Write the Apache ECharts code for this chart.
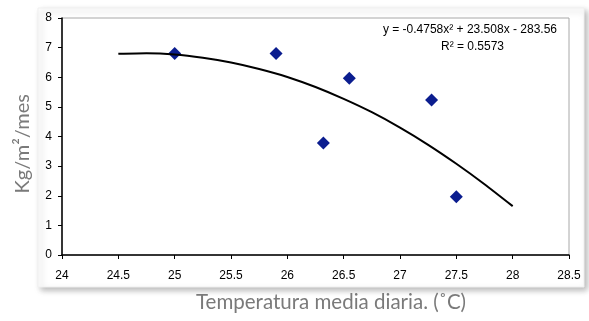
<!DOCTYPE html>
<html>
<head>
<meta charset="utf-8">
<script src="https://cdn.jsdelivr.net/npm/echarts@6/dist/echarts.min.js"></script>
<style>
  html, body { margin: 0; padding: 0; background: #fff; }
  #chart { width: 589px; height: 321px; }
</style>
</head>
<body>
<div id="chart"></div>
<script>
// observed points (temperature, kg/m2/mes)
const tempX = [25.0, 25.9, 26.32, 26.55, 27.28, 27.5];
const yieldY = [6.8, 6.8, 3.78, 5.97, 5.23, 1.97];

// trend curve
const trendX = [24.5, 24.75, 25, 25.25, 25.5, 25.75, 26, 26.25, 26.5, 26.75, 27, 27.25, 27.5, 27.75, 28];
const trendY = [6.79, 6.81, 6.77, 6.66, 6.5, 6.28, 6.01, 5.67, 5.27, 4.82, 4.3, 3.72, 3.08, 2.39, 1.65];

const eqText = 'y = -0.4758x² + 23.508x - 283.56';
const r2Text = 'R² = 0.5573';

const chart = echarts.init(document.getElementById('chart'));

chart.setOption({
  animation: false,
  graphic: [
    {
      type: 'rect', z: -10,
      shape: { x: 38, y: 8, width: 546, height: 279 },
      style: {
        fill: '#fff', stroke: '#f0f0f0', lineWidth: 1,
        shadowBlur: 6, shadowColor: 'rgba(0,0,0,0.28)', shadowOffsetX: 3, shadowOffsetY: 3
      }
    },
    {
      type: 'text', left: 13, top: 94, rotation: Math.PI / 2,
      style: { text: 'Kg/m²/mes', font: '20px Lato', fill: '#7a7a7a' }
    },
    {
      type: 'text', left: 196, top: 292,
      style: { text: 'Temperatura media diaria. (˚C)', font: '20.5px Lato', fill: '#7a7a7a' }
    },
    {
      type: 'text', right: 32, top: 24,
      style: { text: eqText, font: '12px "Liberation Sans"', fill: '#000' }
    },
    {
      type: 'text', left: 441, top: 41,
      style: { text: r2Text, font: '12px "Liberation Sans"', fill: '#000' }
    }
  ],
  grid: {
    left: 62, right: 20, top: 18, bottom: 66,
    show: true, borderColor: '#a8a8a8', borderWidth: 1, backgroundColor: '#fff'
  },
  xAxis: {
    type: 'value', min: 24, max: 28.5, interval: 0.5,
    axisLine: { show: true, onZero: false, lineStyle: { color: '#000', width: 1.5 } },
    axisTick: { show: true, length: 4, lineStyle: { color: '#000' } },
    splitLine: { show: false },
    axisLabel: { color: '#000', fontFamily: 'Liberation Sans', fontSize: 12, margin: 15 }
  },
  yAxis: {
    type: 'value', min: 0, max: 8, interval: 1,
    axisLine: { show: true, onZero: false, lineStyle: { color: '#000', width: 1.5 } },
    axisTick: { show: true, length: 4, lineStyle: { color: '#000' } },
    splitLine: { show: false },
    axisLabel: { color: '#000', fontFamily: 'Liberation Sans', fontSize: 12, margin: 10 }
  },
  series: [
    {
      type: 'line',
      data: trendX.map((x, i) => [x, trendY[i]]),
      smooth: 0.2,
      showSymbol: false,
      lineStyle: { color: '#000', width: 2 }
    },
    {
      type: 'scatter',
      data: tempX.map((x, i) => [x, yieldY[i]]),
      symbol: 'diamond',
      symbolSize: 13,
      itemStyle: { color: '#0b1d8f', opacity: 1 }
    }
  ]
});
</script>
</body>
</html>
